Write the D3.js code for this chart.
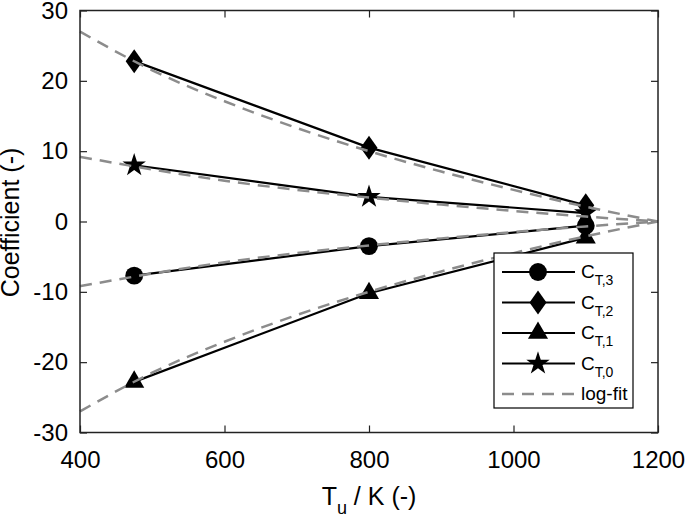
<!DOCTYPE html>
<html>
<head>
<meta charset="utf-8">
<script src="https://cdn.jsdelivr.net/npm/d3@7"></script>
<style>
  body { margin: 0; background: #fff; }
  svg text { font-family: "Liberation Sans", Arial, Helvetica, sans-serif; fill: #000; }
</style>
</head>
<body>
<div id="chart"></div>
<script>
// measured temperatures and coefficients
var temps = [475, 800, 1100];
var cT3 = [-7.7, -3.5, -0.6];
var cT2 = [22.8, 10.5, 2.3];
var cT1 = [-22.8, -10.2, -2.3];
var cT0 = [8.0, 3.5, 1.2];

// log-fit curves
var fitT  = [400, 500, 600, 700, 800, 900, 1000, 1100, 1200];
var fitT3 = [-9.2, -7.4, -5.8, -4.5, -3.4, -2.4, -1.5, -0.7, 0];
var fitT2 = [27.0, 21.5, 17.1, 13.3, 10.0, 7.1, 4.5, 2.1, 0];
var fitT1 = [-27.0, -21.5, -17.1, -13.3, -10.0, -7.1, -4.5, -2.1, 0];
var fitT0 = [9.2, 7.4, 5.8, 4.5, 3.4, 2.4, 1.5, 0.7, 0];

var xTicks = [400, 600, 800, 1000, 1200];
var yTicks = [-30, -20, -10, 0, 10, 20, 30];

var w = 685, h = 520;
var pLeft = 80, pRight = 658, pTop = 10.5, pBottom = 432.5;

var svg = d3.select('#chart').append('svg')
  .attr('width', w)
  .attr('height', h);

var x = d3.scaleLinear().domain([400, 1200]).range([pLeft, pRight]);
var y = d3.scaleLinear().domain([-30, 30]).range([pBottom, pTop]);

// marker shapes
var diamondPath = 'M0,-12L8.5,0L0,12L-8.5,0Z';
function markerPath(kind) {
  if (kind == 'circle') return d3.symbol().type(d3.symbolCircle).size(250)();
  if (kind == 'diamond') return diamondPath;
  if (kind == 'triangle') return d3.symbol().type(d3.symbolTriangle).size(175)();
  return d3.symbol().type(d3.symbolStar).size(170)();
}

var series = [
  {name: 'T,3', vals: cT3, fit: fitT3, marker: 'circle'},
  {name: 'T,2', vals: cT2, fit: fitT2, marker: 'diamond'},
  {name: 'T,1', vals: cT1, fit: fitT1, marker: 'triangle'},
  {name: 'T,0', vals: cT0, fit: fitT0, marker: 'star'}
];

// axes box with inward ticks on all sides
var axisColor = '#222';
var fmt = function(d){ return String(d); };  // plain hyphen minus like the original
svg.append('g')
  .attr('transform', 'translate(0,' + pBottom + ')')
  .call(d3.axisBottom(x).tickValues(xTicks).tickFormat(fmt).tickSizeInner(-7).tickSizeOuter(0).tickPadding(18))
  .call(function(g){
    g.select('.domain').remove();
    g.selectAll('line').attr('stroke', axisColor).attr('stroke-width', 1.2);
    g.selectAll('text').style('font-size', '24px').attr('fill', '#000');
  });
svg.append('g')
  .attr('transform', 'translate(0,' + pTop + ')')
  .call(d3.axisTop(x).tickValues(xTicks).tickSizeInner(-7).tickSizeOuter(0).tickFormat(''))
  .call(function(g){
    g.select('.domain').remove();
    g.selectAll('line').attr('stroke', axisColor).attr('stroke-width', 1.2);
  });
svg.append('g')
  .attr('transform', 'translate(' + pLeft + ',0)')
  .call(d3.axisLeft(y).tickValues(yTicks).tickFormat(fmt).tickSizeInner(-7).tickSizeOuter(0).tickPadding(12))
  .call(function(g){
    g.select('.domain').remove();
    g.selectAll('line').attr('stroke', axisColor).attr('stroke-width', 1.2);
    g.selectAll('text').style('font-size', '24px').attr('fill', '#000');
  });
svg.append('g')
  .attr('transform', 'translate(' + pRight + ',0)')
  .call(d3.axisRight(y).tickValues(yTicks).tickSizeInner(-7).tickSizeOuter(0).tickFormat(''))
  .call(function(g){
    g.select('.domain').remove();
    g.selectAll('line').attr('stroke', axisColor).attr('stroke-width', 1.2);
  });

// data lines and markers
var line = d3.line()
  .x(function(d, i){ return x(temps[i]); })
  .y(function(d){ return y(d); });

series.forEach(function(s){
  svg.append('path')
    .attr('d', line(s.vals))
    .attr('fill', 'none')
    .attr('stroke', '#000')
    .attr('stroke-width', 2.2);
  svg.selectAll(null)
    .data(s.vals)
    .enter()
    .append('path')
    .attr('d', markerPath(s.marker))
    .attr('transform', function(d, i){ return 'translate(' + x(temps[i]) + ',' + y(d) + ')'; })
    .attr('fill', '#000');
});

// dashed log fits on top
var fitLine = d3.line()
  .x(function(d, i){ return x(fitT[i]); })
  .y(function(d){ return y(d); })
  .curve(d3.curveMonotoneX);

series.forEach(function(s){
  svg.append('path')
    .attr('d', fitLine(s.fit))
    .attr('fill', 'none')
    .attr('stroke', '#8c8c8c')
    .attr('stroke-width', 2.5)
    .attr('stroke-dasharray', '12,8');
});

// frame
svg.append('rect')
  .attr('x', pLeft).attr('y', pTop)
  .attr('width', pRight - pLeft).attr('height', pBottom - pTop)
  .attr('fill', 'none')
  .attr('stroke', axisColor)
  .attr('stroke-width', 1.5);

// axis titles
var xt = svg.append('text')
  .attr('x', (pLeft + pRight) / 2)
  .attr('y', 505)
  .attr('text-anchor', 'middle')
  .style('font-size', '25px');
xt.append('tspan').text('T');
xt.append('tspan').attr('dy', 9).style('font-size', '18px').text('u');
xt.append('tspan').attr('dy', -9).text(' / K (-)');

svg.append('text')
  .attr('transform', 'translate(19,' + ((pTop + pBottom) / 2 + 1) + ') rotate(-90)')
  .attr('text-anchor', 'middle')
  .style('font-size', '25px')
  .text('Coefficient (-)');

// legend
var lg = svg.append('g');
lg.append('rect')
  .attr('x', 494).attr('y', 253)
  .attr('width', 139).attr('height', 155)
  .attr('fill', '#fff')
  .attr('stroke', '#000')
  .attr('stroke-width', 1.2);

var rowY = d3.scaleLinear().domain([0, 4]).range([272, 394]);
series.forEach(function(s, i){
  var yy = rowY(i);
  lg.append('line')
    .attr('x1', 502).attr('x2', 575)
    .attr('y1', yy).attr('y2', yy)
    .attr('stroke', '#000').attr('stroke-width', 2.2);
  lg.append('path')
    .attr('d', markerPath(s.marker))
    .attr('transform', 'translate(538,' + yy + ')')
    .attr('fill', '#000');
  var t = lg.append('text')
    .attr('x', 581).attr('y', yy + 6)
    .style('font-size', '19px');
  t.append('tspan').text('C');
  t.append('tspan').attr('dy', 7).style('font-size', '14px').text(s.name);
});
lg.append('line')
  .attr('x1', 502).attr('x2', 575)
  .attr('y1', rowY(4)).attr('y2', rowY(4))
  .attr('stroke', '#8c8c8c').attr('stroke-width', 2.5)
  .attr('stroke-dasharray', '12,8');
lg.append('text')
  .attr('x', 581).attr('y', rowY(4) + 6)
  .style('font-size', '19px')
  .text('log-fit');
</script>
</body>
</html>
